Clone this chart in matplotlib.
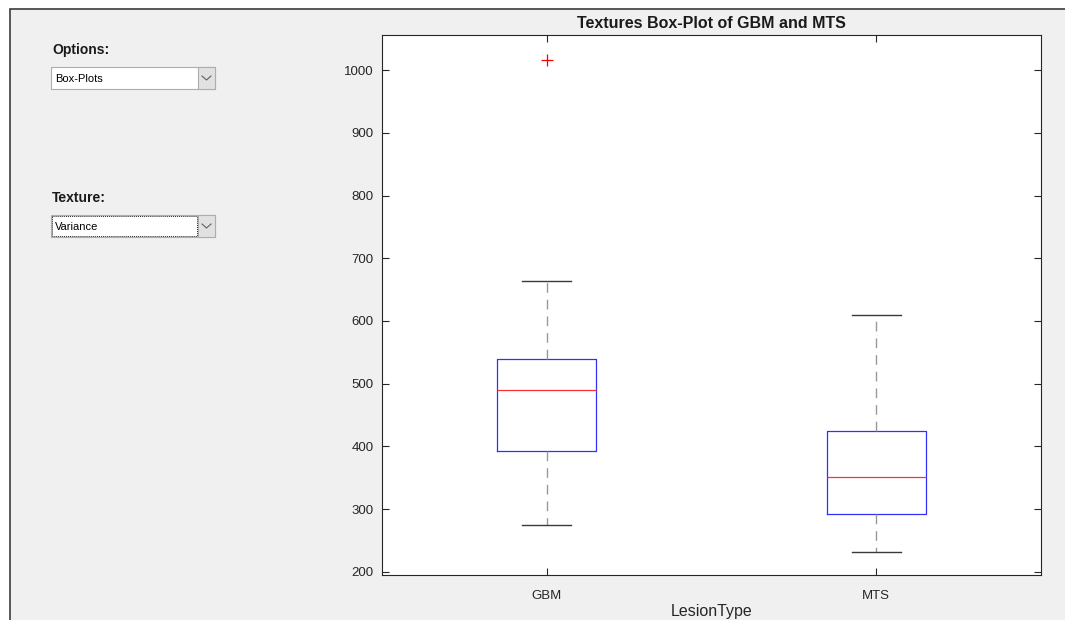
import matplotlib
matplotlib.use("Agg")
import matplotlib.pyplot as plt
from matplotlib.patches import Rectangle

plt.rcParams['font.family'] = ['Liberation Sans', 'DejaVu Sans']

# box plot statistics
groups = ['GBM', 'MTS']
whisker_low = [274, 232]
q1 = [393, 292]
medians = [490, 351]
q3 = [539, 425]
whisker_high = [663, 609]
outliers = [[1016], []]

y_ticks = [200, 300, 400, 500, 600, 700, 800, 900, 1000]

W, H = 1065, 620
fig = plt.figure(figsize=(W / 100, H / 100), dpi=100, facecolor='white')

# GUI panel in pixel coordinates
ui = fig.add_axes([0, 0, 1, 1])
ui.set_xlim(0, W)
ui.set_ylim(H, 0)
ui.axis('off')
ui.add_patch(Rectangle((10, 9), W, H, facecolor='#f0f0f0', edgecolor='#3c3c3c', lw=1.2))


def dropdown(y, label, title, focused=False):
    ui.text(52, y - 17, title, fontsize=10, fontweight='bold', color='#1a1a1a', va='center')
    ui.add_patch(Rectangle((51, y), 164, 22, facecolor='white', edgecolor='#adadad', lw=0.8))
    ui.add_patch(Rectangle((198, y), 17, 22, facecolor='#e1e1e1', edgecolor='#adadad', lw=0.8))
    if focused:
        ui.add_patch(Rectangle((52, y + 1), 145, 20, facecolor='none', edgecolor='#222222',
                               lw=0.7, linestyle=(0, (1, 1))))
    ui.plot([202, 206.5, 211], [y + 9, y + 13, y + 9], color='#606060', lw=0.8)
    ui.text(55, y + 12.5, label, fontsize=8, color='black', va='center')


dropdown(67, 'Box-Plots', 'Options:')
dropdown(215, 'Variance', 'Texture:', focused=True)

# main axes
ax = fig.add_axes([382 / W, 1 - 575 / H, 659 / W, 540 / H])
ax.set_facecolor('white')

stats = []
for i, g in enumerate(groups):
    stats.append({'label': g, 'whislo': whisker_low[i], 'q1': q1[i], 'med': medians[i],
                  'q3': q3[i], 'whishi': whisker_high[i], 'fliers': outliers[i]})

ax.bxp(stats, positions=[1, 2], widths=0.3, showfliers=True,
       boxprops=dict(color='#3030ff', lw=0.9),
       medianprops=dict(color='#ff3030', lw=0.9),
       whiskerprops=dict(color='#999999', lw=1.0, linestyle=(0, (7, 5))),
       capprops=dict(color='#3a3a3a', lw=1.0),
       flierprops=dict(marker='+', markeredgecolor='red', markersize=8, markeredgewidth=0.9))

ax.set_xlim(0.5, 2.5)
ax.set_ylim(195, 1056)
ax.set_yticks(y_ticks)
ax.set_xticks([1, 2])
ax.set_xticklabels(groups)
ax.tick_params(direction='in', length=5, width=0.8, colors='#262626', labelsize=9.5,
               top=True, right=True, pad=6)
ax.tick_params(axis='x', pad=11)
for s in ax.spines.values():
    s.set_color('#262626')
    s.set_linewidth(0.8)

ax.set_title('Textures Box-Plot of GBM and MTS', fontsize=11.5, fontweight='bold',
             color='#1a1a1a', pad=5)
ax.set_xlabel('LesionType', fontsize=11.5, color='#262626', labelpad=1.5)

fig.savefig('out.png', dpi=100, facecolor=fig.get_facecolor())
